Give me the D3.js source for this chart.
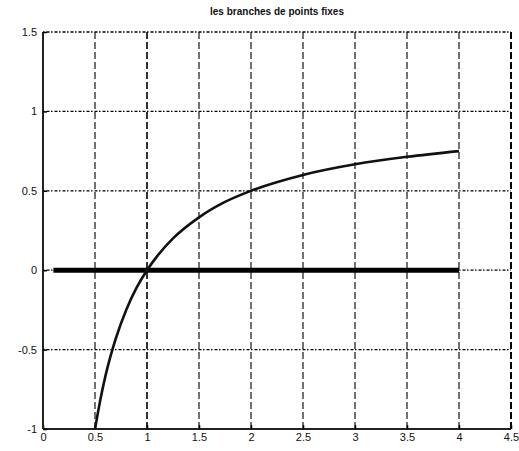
<!DOCTYPE html>
<html><head><meta charset="utf-8">
<script src="https://cdn.jsdelivr.net/npm/d3@7"></script>
<style>body{margin:0;background:#fff}svg{display:block}</style>
</head><body>
<svg id="c" width="519" height="451"></svg>
<script>
const title = "les branches de points fixes";
const xTicks = [0, 0.5, 1, 1.5, 2, 2.5, 3, 3.5, 4, 4.5];
const yTicks = [-1, -0.5, 0, 0.5, 1, 1.5];
const xTickLabels = ["0", "0.5", "1", "1.5", "2", "2.5", "3", "3.5", "4", "4.5"];
const yTickLabels = ["-1", "-0.5", "0", "0.5", "1", "1.5"];
const curveX = [0.5, 0.55, 0.6, 0.65, 0.7, 0.8, 0.9, 1, 1.1, 1.25, 1.5, 1.75, 2, 2.5, 3, 3.5, 4];
const curveY = [-1, -0.82, -0.667, -0.54, -0.43, -0.25, -0.11, 0, 0.09, 0.2, 0.333, 0.43, 0.5, 0.6, 0.667, 0.714, 0.75];
const flatX = [0.1, 4];
const flatY = [0, 0];

const svg = d3.select("#c");
const x = d3.scaleLinear().domain([0, 4.5]).range([43, 511]);
const y = d3.scaleLinear().domain([-1, 1.5]).range([429, 32]);

// grid: vertical dashed
svg.append("g").selectAll("line").data(xTicks.slice(1)).join("line")
  .attr("x1", d => x(d)).attr("x2", d => x(d))
  .attr("y1", y(1.5)).attr("y2", y(-1))
  .attr("stroke", "#000").attr("stroke-width", d => d === 4.5 ? 2 : (d === 1 ? 1.6 : 1.1))
  .attr("stroke-dasharray", "7,3");
// grid: horizontal dotted
svg.append("g").selectAll("line").data(yTicks.slice(1)).join("line")
  .attr("x1", x(0)).attr("x2", x(4.5))
  .attr("y1", d => y(d)).attr("y2", d => y(d))
  .attr("stroke", "#000").attr("stroke-width", 1.3)
  .attr("stroke-dasharray", "1.5,2,3,1.5");

// axes
const xAxis = d3.axisBottom(x).tickValues(xTicks).tickFormat((d, i) => xTickLabels[i]).tickSize(-4).tickPadding(6);
const yAxis = d3.axisLeft(y).tickValues(yTicks).tickFormat((d, i) => yTickLabels[i]).tickSize(-4).tickPadding(6);
const gx = svg.append("g").attr("transform", `translate(0,${y(-1)})`).call(xAxis);
const gy = svg.append("g").attr("transform", `translate(${x(0)},0)`).call(yAxis);
[gx, gy].forEach(g => {
  g.select(".domain").attr("stroke", "#222").attr("stroke-width", 2);
  g.selectAll(".tick line").attr("stroke", "#000").attr("stroke-width", 1.5);
  g.selectAll("text").attr("font-family", "Liberation Sans, Arial, sans-serif").attr("font-size", 11).attr("fill", "#111");
});
gy.select(".domain").attr("d", `M0,${y(1.5)}V${y(-1)}`);
gx.select(".domain").attr("d", `M${x(0)},0H${x(4.5)}`);
gx.selectAll("text").attr("dy", "0.55em");

// flat branch
svg.append("path")
  .datum(flatX.map((d, i) => [d, flatY[i]]))
  .attr("d", d3.line().x(d => x(d[0])).y(d => y(d[1])))
  .attr("stroke", "#000").attr("stroke-width", 5).attr("fill", "none");

// curve branch
svg.append("path")
  .datum(curveX.map((d, i) => [d, curveY[i]]))
  .attr("d", d3.line().x(d => x(d[0])).y(d => y(d[1])).curve(d3.curveMonotoneX))
  .attr("stroke", "#111").attr("stroke-width", 2.6).attr("fill", "none");

svg.append("text").attr("x", 277).attr("y", 15).attr("text-anchor", "middle")
  .attr("font-family", "Liberation Sans, Arial, sans-serif").attr("font-size", 10).attr("font-weight", "bold")
  .attr("fill", "#111").text(title);
</script>
</body></html>
